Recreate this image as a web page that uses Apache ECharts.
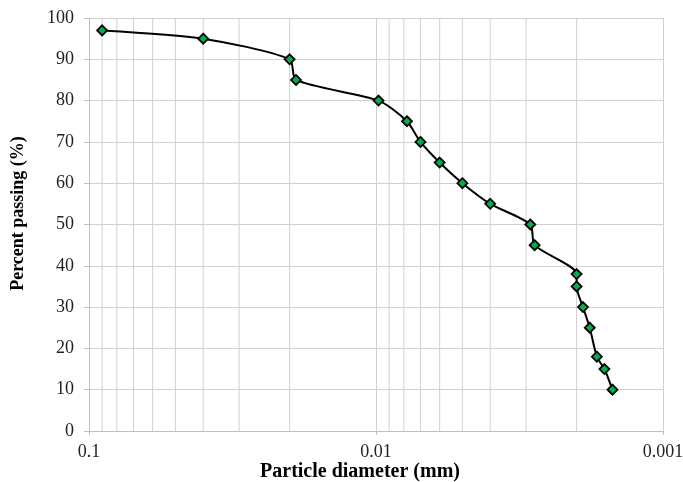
<!DOCTYPE html>
<html>
<head>
<meta charset="utf-8">
<script src="https://cdn.jsdelivr.net/npm/echarts@6/dist/echarts.min.js"></script>
<style>html,body{margin:0;padding:0;background:#fff}#c{width:683px;height:482px}</style>
</head>
<body>
<div id="c"></div>
<script>
var diameters = [0.09, 0.04, 0.02, 0.019, 0.0098, 0.0078, 0.007, 0.006, 0.005, 0.004, 0.0029, 0.0028, 0.002, 0.002, 0.0019, 0.0018, 0.0017, 0.0016, 0.0015];
var passing   = [97, 95, 90, 85, 80, 75, 70, 65, 60, 55, 50, 45, 38, 35, 30, 25, 18, 15, 10];
var minorGridValues = [0.09, 0.08, 0.07, 0.06, 0.05, 0.04, 0.03, 0.02, 0.009, 0.008, 0.007, 0.006, 0.005, 0.004, 0.003, 0.002];
var xTickLabels = ["0.1", "0.01", "0.001"];

var data = diameters.map(function (d, i) { return [d, passing[i]]; });
var font = '"Liberation Serif", "Times New Roman", serif';
var gridColor = '#d0d0d0';

var gridSeries = minorGridValues.map(function (v) {
  return {
    type: 'line', data: [[v, 0], [v, 100]], symbol: 'none', silent: true,
    lineStyle: { color: gridColor, width: 1 }, z: 1, animation: false
  };
});

var chart = echarts.init(document.getElementById('c'));
chart.setOption({
  animation: false,
  grid: { left: 89, right: 20, top: 18, bottom: 51, containLabel: false, outerBoundsMode: 'none' },
  xAxis: {
    type: 'log', logBase: 10, min: 0.001, max: 0.1, inverse: true,
    name: 'Particle diameter (mm)', nameLocation: 'middle', nameGap: 31, nameMoveOverlap: false,
    nameTextStyle: { fontFamily: font, fontWeight: 'bold', fontSize: 20, color: '#000', padding: [0, 32, 0, 0] },
    axisLine: { show: true, lineStyle: { color: '#bfbfbf', width: 1 } },
    axisTick: { show: true, length: 4, lineStyle: { color: '#bfbfbf' } },
    axisLabel: {
      fontFamily: font, fontSize: 18, color: '#222', margin: 12,
      formatter: function (v) {
        var p = -Math.round(Math.log10(v));
        return xTickLabels[p - 1] || String(v);
      }
    },
    splitLine: { show: true, lineStyle: { color: gridColor, width: 1 } }
  },
  yAxis: {
    type: 'value', min: 0, max: 100, interval: 10,
    name: 'Percent passing (%)', nameLocation: 'middle', nameGap: 62, nameRotate: 90, nameMoveOverlap: false,
    nameTextStyle: { fontFamily: font, fontWeight: 'bold', fontSize: 18, color: '#000', padding: [0, 0, 0, 22] },
    axisLine: { show: true, lineStyle: { color: '#bfbfbf', width: 1 } },
    axisTick: { show: true, length: 5, lineStyle: { color: '#bfbfbf' } },
    axisLabel: { fontFamily: font, fontSize: 18, color: '#222', margin: 15 },
    splitLine: { show: true, lineStyle: { color: gridColor, width: 1 } }
  },
  series: gridSeries.concat([{
    type: 'line',
    data: data,
    smooth: 0.25,
    symbol: 'diamond',
    symbolSize: 10,
    lineStyle: { color: '#000', width: 2 },
    itemStyle: { color: '#00b050', borderColor: '#000', borderWidth: 1.8 },
    z: 5
  }])
});
</script>
</body>
</html>
